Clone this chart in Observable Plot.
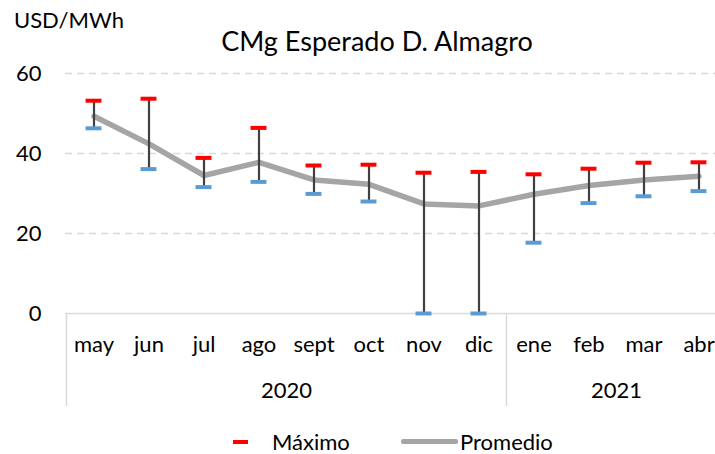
<!DOCTYPE html>
<html>
<head>
<meta charset="utf-8">
<script src="https://cdn.jsdelivr.net/npm/d3@7"></script>
<script src="https://cdn.jsdelivr.net/npm/@observablehq/plot@0.6"></script>
<style>
  html, body { margin: 0; padding: 0; background: #fff; overflow: hidden; }
  #wrap { position: relative; width: 715px; height: 454px; font-family: Lato, "Open Sans", sans-serif; color: #000; }
  #wrap svg { position: absolute; left: 0; top: 0; }
  .abs { position: absolute; white-space: nowrap; line-height: 1; }
  #unit { left: 14px; top: 9px; font-size: 22px; }
  #title { left: 0; width: 754px; text-align: center; top: 27px; font-size: 27px; }
  #legend { left: 0; top: 429px; width: 715px; height: 24px; font-size: 22px; }
  .sw { position: absolute; }
</style>
</head>
<body>
<div id="wrap">
  <div id="chart"></div>
  <div class="abs" id="unit">USD/MWh</div>
  <div class="abs" id="title">CMg Esperado D. Almagro</div>
  <div class="abs" id="legend">
    <span class="sw" style="left:233px;top:11px;width:15px;height:4px;background:#FF0000;"></span>
    <span class="abs" style="left:272px;top:2px;">Máximo</span>
    <span class="sw" style="left:401px;top:10px;width:57px;height:5px;background:#A5A5A5;border-radius:2px;"></span>
    <span class="abs" style="left:460px;top:2px;">Promedio</span>
  </div>
</div>
<script>
const months = ["may","jun","jul","ago","sept","oct","nov","dic","ene","feb","mar","abr"];
const yearOf = ["2020","2020","2020","2020","2020","2020","2020","2020","2021","2021","2021","2021"];
const maximo = [53.2, 53.7, 38.9, 46.4, 37.0, 37.2, 35.2, 35.4, 34.8, 36.2, 37.7, 37.8];
const minimo = [46.3, 36.1, 31.6, 32.9, 29.9, 28.0, 0, 0, 17.7, 27.6, 29.3, 30.6];
const promedio = [49.3, 42.4, 34.5, 37.8, 33.4, 32.3, 27.4, 26.9, 29.8, 32.0, 33.4, 34.3];
const yTicks = [0, 20, 40, 60];

const data = months.map((m, i) => ({month: m, year: yearOf[i], max: maximo[i], min: minimo[i], avg: promedio[i]}));

// year groups
const groups = [];
months.forEach((m, i) => {
  const g = groups[groups.length - 1];
  if (!g || g.year !== yearOf[i]) groups.push({year: yearOf[i], start: i, count: 1});
  else g.count++;
});
groups.forEach(g => { g.first = months[g.start]; g.mid = months[g.start + g.count / 2 - 1]; });

const W = 715, H = 454;
const xRange = [65, 726];
const bw = (xRange[1] - xRange[0]) / months.length;
const tickInset = (bw - 16) / 2;
const font = "Lato";

const chart = Plot.plot({
  width: W,
  height: H,
  marginTop: 73,
  marginBottom: 141,
  marginLeft: 65,
  marginRight: 0,
  style: {fontFamily: font, background: "transparent", color: "#000", overflow: "hidden"},
  x: {domain: months, range: xRange, padding: 0, align: 0.5},
  y: {domain: [0, 60], range: [313, 73]},
  marks: [
    Plot.ruleY(yTicks.filter(d => d > 0), {stroke: "#d9d9d9", strokeWidth: 1.5, strokeDasharray: "7,5"}),
    Plot.ruleY([0], {stroke: "#d9d9d9", strokeWidth: 1.5}),
    Plot.ruleX(groups, {x: "first", dx: -bw / 2, y1: 0, y2: -23.3, stroke: "#d9d9d9", strokeWidth: 1.5}),
    Plot.axisY({ticks: yTicks, tickSize: 0, tickPadding: 24, fontSize: 22, fontFamily: font, fill: "#000"}),
    Plot.axisX({tickSize: 0, tickPadding: 23, fontSize: 22, fontFamily: font, fill: "#000"}),
    Plot.text(groups, {x: "mid", dx: bw / 2, frameAnchor: "bottom", dy: 84, text: "year", fontSize: 22, fontFamily: font, fill: "#000"}),
    Plot.line(data, {x: "month", y: "avg", stroke: "#A5A5A5", strokeWidth: 5.5, strokeLinecap: "round", strokeLinejoin: "round"}),
    Plot.ruleX(data, {x: "month", y1: "min", y2: "max", stroke: "#404040", strokeWidth: 2.2}),
    Plot.tickY(data, {x: "month", y: "min", stroke: "#5B9BD5", strokeWidth: 4, insetLeft: tickInset, insetRight: tickInset}),
    Plot.tickY(data, {x: "month", y: "max", stroke: "#FF0000", strokeWidth: 4, insetLeft: tickInset, insetRight: tickInset})
  ]
});
document.getElementById("chart").appendChild(chart);
</script>
</body>
</html>
